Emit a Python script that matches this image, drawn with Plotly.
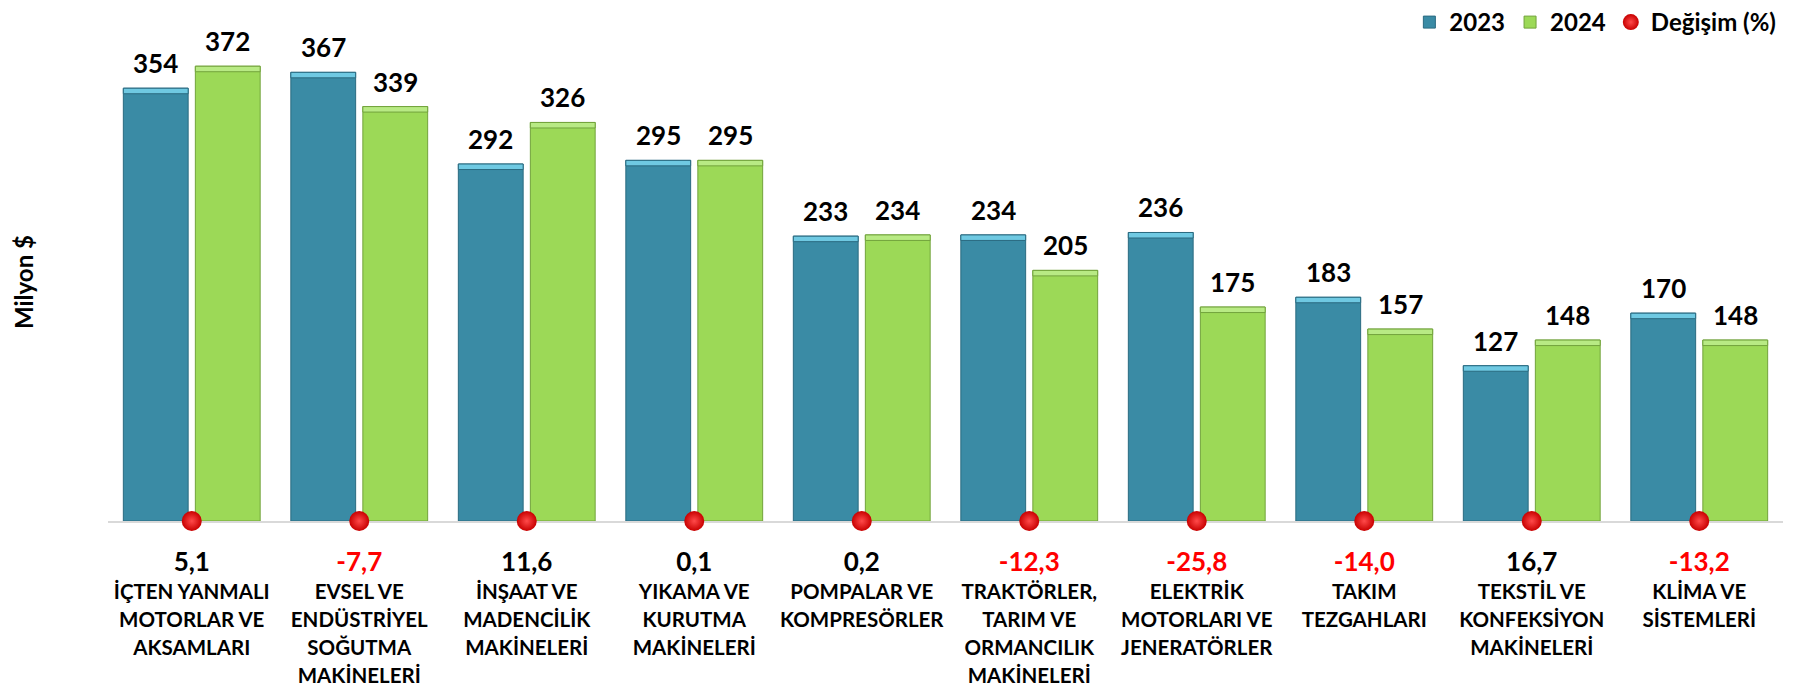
import plotly.graph_objects as go

categories = [
    "İÇTEN YANMALI<br>MOTORLAR VE<br>AKSAMLARI",
    "EVSEL VE<br>ENDÜSTRİYEL<br>SOĞUTMA<br>MAKİNELERİ",
    "İNŞAAT VE<br>MADENCİLİK<br>MAKİNELERİ",
    "YIKAMA VE<br>KURUTMA<br>MAKİNELERİ",
    "POMPALAR VE<br>KOMPRESÖRLER",
    "TRAKTÖRLER,<br>TARIM VE<br>ORMANCILIK<br>MAKİNELERİ",
    "ELEKTRİK<br>MOTORLARI VE<br>JENERATÖRLER",
    "TAKIM<br>TEZGAHLARI",
    "TEKSTİL VE<br>KONFEKSİYON<br>MAKİNELERİ",
    "KLİMA VE<br>SİSTEMLERİ",
]
values_2023 = [354, 367, 292, 295, 233, 234, 236, 183, 127, 170]
values_2024 = [372, 339, 326, 295, 234, 205, 175, 157, 148, 148]
change_pct = [5.1, -7.7, 11.6, 0.1, 0.2, -12.3, -25.8, -14.0, 16.7, -13.2]

x_idx = list(range(len(categories)))

W, H = 1803, 697
ML, MR, MT, MB = 108, 20, 32, 176
BARGAP = 0.14
GROUPGAP = 0.1
slot = (1 - BARGAP) / 2
offs = slot / 2
BEVEL = 4.5  # height of the lighter top band, in value units


def fmt(v):
    return f"{v:.1f}".replace(".", ",")


ticktext = []
for name, ch in zip(categories, change_pct):
    col = "#FF0000" if ch < 0 else "#000000"
    ticktext.append(
        f"<span style='font-size:26px;color:{col}'><b>{fmt(ch)}</b></span><br>"
        f"<span style='font-size:20.5px'><b>{name}</b></span>"
    )

FONT = "Lato, 'Open Sans', sans-serif"

fig = go.Figure()
fig.add_trace(go.Bar(
    x=x_idx, y=values_2023, name="2023", offsetgroup="a",
    marker=dict(color="#3A8BA5", line=dict(color="#2A6A80", width=1)),
    cliponaxis=False,
))
fig.add_trace(go.Bar(
    x=x_idx, y=values_2024, name="2024", offsetgroup="b",
    marker=dict(color="#9CD957", line=dict(color="#72A33C", width=1)),
    cliponaxis=False,
))
# lighter bevel band at top of each bar
fig.add_trace(go.Bar(
    x=x_idx, y=[BEVEL] * len(x_idx), base=[v - BEVEL for v in values_2023],
    offsetgroup="a", showlegend=False, hoverinfo="skip",
    marker=dict(color="#6FC9E2", line=dict(color="#2A6A80", width=1)),
))
fig.add_trace(go.Bar(
    x=x_idx, y=[BEVEL] * len(x_idx), base=[v - BEVEL for v in values_2024],
    offsetgroup="b", showlegend=False, hoverinfo="skip",
    marker=dict(color="#B8EA84", line=dict(color="#72A33C", width=1)),
))
fig.add_trace(go.Scatter(
    x=x_idx, y=[0] * len(x_idx), name="Değişim (%)", mode="markers",
    marker=dict(size=20, color="#C80000",
                gradient=dict(type="radial", color="#FF4A4A"),
                line=dict(width=0)),
    cliponaxis=False,
    customdata=change_pct,
    hovertemplate="%{customdata}<extra></extra>",
))

annotations = []
for i, (a, b) in enumerate(zip(values_2023, values_2024)):
    for xv, v in ((i - offs, a), (i + offs, b)):
        annotations.append(dict(
            x=xv, y=v, xref="x", yref="y", text=f"<b>{v}</b>",
            showarrow=False, yanchor="bottom", yshift=7,
            font=dict(size=26, family=FONT, color="#000000"),
        ))
annotations.append(dict(
    xref="paper", yref="paper", text="<b>Milyon $</b>",
    x=(23 - ML) / (W - ML - MR), y=1 - (282 - MT) / (H - MT - MB),
    xanchor="center", yanchor="middle",
    showarrow=False, textangle=-90,
    font=dict(size=24, family=FONT, color="#000000"),
))

fig.update_layout(
    width=W, height=H,
    margin=dict(l=ML, r=MR, t=MT, b=MB, autoexpand=False),
    paper_bgcolor="white", plot_bgcolor="white",
    barmode="group", bargap=BARGAP, bargroupgap=GROUPGAP,
    font=dict(family=FONT, color="#000000"),
    showlegend=True,
    annotations=annotations,
    legend=dict(
        orientation="h", xref="container", yref="container",
        x=0.988, xanchor="right", y=1.0, yanchor="top",
        font=dict(size=24, family=FONT, weight="bold"),
        itemwidth=30, tracegroupgap=0, bgcolor="rgba(0,0,0,0)",
    ),
    xaxis=dict(
        tickmode="array", tickvals=x_idx, ticktext=ticktext,
        tickfont=dict(size=21.5, family=FONT, color="#000000"),
        showline=True, linecolor="#D9D9D9", linewidth=2,
        layer="below traces",
        ticks="", ticklabelstandoff=22, automargin=False,
        range=[-0.5, len(categories) - 0.5],
        showgrid=False, zeroline=False,
    ),
    yaxis=dict(
        range=[0, 400], showticklabels=False, showgrid=False,
        zeroline=False, showline=False, automargin=False,
    ),
)

fig.write_html(
    "out.html",
    config={"displayModeBar": False},
    post_script="document.body.style.margin='0';document.body.style.overflow='hidden';",
)
